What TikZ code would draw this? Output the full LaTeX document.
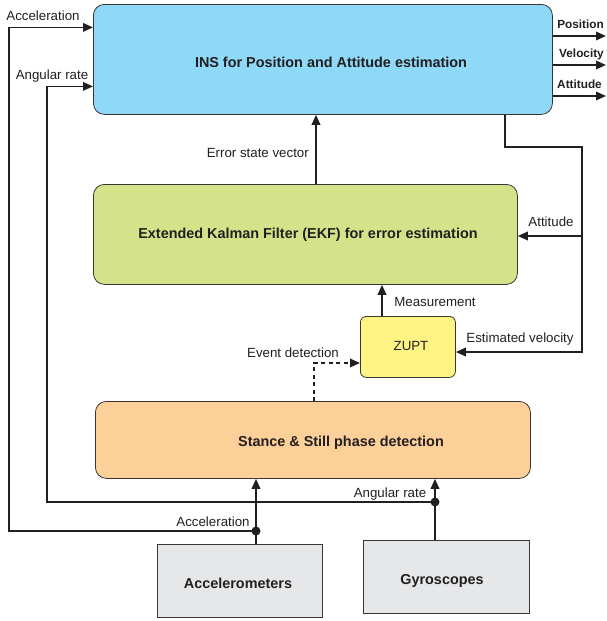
\documentclass[tikz,border=0pt]{standalone}
\usepackage{fontspec}
\setmainfont{Liberation Sans}
\usetikzlibrary{arrows.meta}
\definecolor{insblue}{HTML}{8ED8F8}
\definecolor{ekfgreen}{HTML}{D4E28A}
\definecolor{zuptyellow}{HTML}{FFF384}
\definecolor{stanceorange}{HTML}{FDD09A}
\definecolor{sensorgray}{HTML}{E6E7E8}
\definecolor{ink}{HTML}{231F20}
\begin{document}
\begin{tikzpicture}[x=1pt,y=-1pt,
  box/.style={draw=ink!90, line width=0.8pt, rounded corners=11pt, inner sep=0pt, anchor=north west},
  sensor/.style={draw=ink!90, line width=0.8pt, fill=sensorgray, inner sep=0pt, anchor=north west},
  lbl/.style={font=\fontsize{13.3}{15}\selectfont, text=ink, inner sep=0pt},
  ttl/.style={font=\bfseries\fontsize{14.4}{16}\selectfont, text=ink, inner sep=0pt},
  olbl/.style={font=\bfseries\fontsize{11.8}{14}\selectfont, text=ink, inner sep=0pt},
  line/.style={line width=1.8pt, draw=ink},
  arr/.style={line, -{Triangle[length=10pt,width=8.5pt]}},
  dotc/.style={fill=ink}
]
\useasboundingbox (0,0) rectangle (607,621);

% boxes
\node[box, fill=insblue, minimum width=459pt, minimum height=110pt] (ins) at (93,4) {};
\node[ttl] (insT) at (331,62) {INS for Position and Attitude estimation};
\node[box, fill=ekfgreen, minimum width=424pt, minimum height=100pt] (ekf) at (93,184) {};
\node[ttl] (ekfT) at (308,235) {Extended Kalman Filter (EKF) for error estimation};
\node[box, fill=zuptyellow, rounded corners=6pt, minimum width=95pt, minimum height=61pt] (zupt) at (360,316) {};
\node[lbl] (zuptT) at (411,346) {ZUPT};
\node[box, fill=stanceorange, minimum width=435pt, minimum height=77pt] (stance) at (95,401) {};
\node[ttl] (stanceT) at (341,443) {Stance \& Still phase detection};
\node[sensor, minimum width=165pt, minimum height=73pt] (acc) at (157,544) {};
\node[ttl] (accT) at (238,583) {Accelerometers};
\node[sensor, minimum width=166pt, minimum height=73pt] (gyro) at (363,540) {};
\node[ttl] (gyroT) at (442,581) {Gyroscopes};

% coordinates
\coordinate (adot) at (256,531);
\coordinate (gdot) at (435,502);
\coordinate (aL) at (9,531);
\coordinate (gL) at (47,502);
\coordinate (pos) at (606,36);
\coordinate (vel) at (606,65);
\coordinate (att) at (606,96);
\coordinate (esv) at (316,150);
\coordinate (c1) at (505,147);
\coordinate (c2) at (582,147);
\coordinate (c3) at (582,352);
\coordinate (c4) at (582,236);
\coordinate (ms) at (382,300);
\coordinate (ev) at (314,363);

% sensor connectors
\draw[arr] (adot |- acc.north) -- (adot |- stance.south);
\draw[arr] (gdot |- gyro.north) -- (gdot |- stance.south);
\draw[arr] (adot) -- (aL) |- ([yshift=32pt]ins.west);
\draw[arr] (gdot) -- (gL) |- ([yshift=-27pt]ins.west);
\fill[dotc] (adot) circle (4.5pt);
\fill[dotc] (gdot) circle (4.5pt);

% outputs
\draw[arr] (pos -| ins.east) -- (pos);
\draw[arr] (vel -| ins.east) -- (vel);
\draw[arr] (att -| ins.east) -- (att);

% internal
\draw[arr] (esv |- ekf.north) -- (esv |- ins.south);
\draw[arr] (c1 |- ins.south) -- (c1) -- (c2) -- (c3) -- (c3 -| zupt.east);
\draw[arr] (c4) -- (c4 -| ekf.east);
\draw[arr] (ms |- zupt.north) -- (ms |- ekf.south);
\draw[arr, dash pattern=on 4pt off 3.5pt] (ev |- stance.north) -- (ev) -- (ev -| zupt.west);

% labels
\node[lbl] (lAccTop) at (43,16) {Acceleration};
\node[lbl] (lAngTop) at (52,76) {Angular rate};
\node[olbl, anchor=east] (lPos) at (604,24) {Position};
\node[olbl, anchor=east] (lVel) at (604,54) {Velocity};
\node[olbl, anchor=east] (lAtt) at (602,84) {Attitude};
\node[lbl, anchor=east] (lEsv) at (309,153) {Error state vector};
\node[lbl] (lAttEkf) at (551,222) {Attitude};
\node[lbl] (lMeas) at (435,302) {Measurement};
\node[lbl] (lEst) at (520,339) {Estimated velocity};
\node[lbl] (lEv) at (293,353) {Event detection};
\node[lbl] (lAngBot) at (390,494) {Angular rate};
\node[lbl] (lAccBot) at (213,522) {Acceleration};
\end{tikzpicture}
\end{document}
